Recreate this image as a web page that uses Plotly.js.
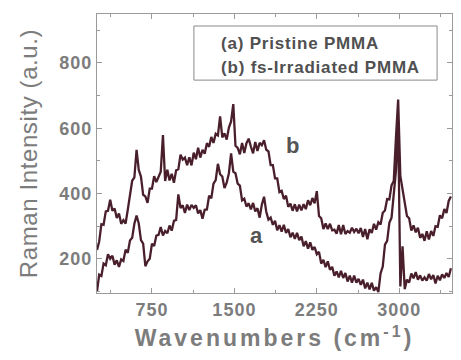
<!DOCTYPE html>
<html>
<head>
<meta charset="utf-8">
<script src="https://cdn.plot.ly/plotly-3.0.1.min.js"></script>
<style>
  html, body { margin: 0; padding: 0; background: #fff; }
  #chart { width: 461px; height: 360px; }
  .annotation-text { letter-spacing: 0.8px; }
  .g-xtitle text { letter-spacing: 3px; }
  .g-ytitle text { letter-spacing: 0.6px; }
  .xtick text, .ytick text { letter-spacing: 1px; }
</style>
</head>
<body>
<div id="chart"></div>
<script>
// Wavenumber sampling (cm^-1)
const wavenumbers = [250,270,290,310,330,350,370,390,410,430,450,470,490,510,530,550,570,590,610,630,
  650,670,690,710,730,750,770,790,810,830,850,870,890,910,930,950,970,990,1010,1030,
  1050,1070,1090,1110,1130,1150,1170,1190,1210,1230,1250,1270,1290,1310,1330,1350,1370,1390,1410,1430,
  1450,1470,1490,1510,1530,1550,1570,1590,1610,1630,1650,1670,1690,1710,1730,1750,1770,1790,1810,1830,
  1850,1870,1890,1910,1930,1950,1970,1990,2010,2030,2050,2070,2090,2110,2130,2150,2170,2190,2210,2230,
  2250,2270,2290,2310,2330,2350,2370,2390,2410,2430,2450,2470,2490,2510,2530,2550,2570,2590,2610,2630,
  2650,2670,2690,2710,2730,2750,2770,2790,2810,2830,2850,2870,2890,2910,2930,2950,2970,2990,3010,3030,
  3050,3070,3090,3110,3130,3150,3170,3190,3210,3230,3250,3270,3290,3310,3330,3350,3370,3390,3410,3430,
  3450,3470];

// (a) Pristine PMMA
const pristine = [100,151,147,185,180,214,200,209,182,195,175,198,193,228,218,256,264,307,332,308,
  257,246,177,192,200,246,239,271,273,297,271,285,278,302,286,316,319,397,355,364,
  340,366,349,365,356,364,339,349,323,350,351,393,385,430,441,491,459,452,417,433,
  462,523,467,462,430,424,379,384,360,370,351,371,345,355,326,366,390,344,320,326,
  304,316,287,303,283,304,279,291,266,280,261,279,257,268,238,254,231,250,227,236,
  214,221,185,197,174,192,166,175,148,161,143,163,141,156,130,148,127,148,127,138,
  120,136,109,127,106,126,102,113,98,155,176,243,255,310,326,401,469,620,115,238,
  107,136,127,155,140,159,136,149,133,143,133,153,137,150,124,148,134,152,141,156,
  144,171];

// (b) fs-Irradiated PMMA
const irradiated = [227,253,306,304,345,347,381,347,354,325,339,307,318,308,350,388,439,449,534,472,
  452,396,391,371,415,415,453,435,452,467,579,438,473,440,460,433,471,474,519,504,
  510,487,511,486,525,505,540,510,534,522,554,543,573,555,583,578,636,572,584,565,
  602,621,674,546,540,520,555,524,554,568,544,523,558,530,555,548,563,534,529,487,
  487,446,446,404,408,383,393,359,369,347,367,345,366,348,367,352,379,364,386,370,
  407,331,324,291,308,291,307,287,289,277,303,275,303,276,285,280,295,282,292,278,
  294,267,291,260,290,279,307,289,312,305,341,348,383,382,425,438,571,688,454,410,
  377,331,324,286,302,281,295,264,276,255,284,259,285,270,300,298,333,324,352,340,
  377,391];

const xTicks = [750, 1500, 2250, 3000];
const yTicks = [200, 400, 600, 800];
const legendLines = ["(a) Pristine PMMA", "(b) fs-Irradiated PMMA"];
const curveLabels = ["a", "b"];

const lineColor = '#4a1f2c';
const axisColor = '#9a9a9a';
const textGray = '#7c7c7c';
const fontFam = 'Liberation Sans, Arial, Helvetica, sans-serif';

const traces = [
  { x: wavenumbers, y: irradiated, type: 'scatter', mode: 'lines',
    line: { color: lineColor, width: 2.3 }, hoverinfo: 'skip', showlegend: false },
  { x: wavenumbers, y: pristine, type: 'scatter', mode: 'lines',
    line: { color: lineColor, width: 2.3 }, hoverinfo: 'skip', showlegend: false }
];

const axisCommon = {
  showline: true, linecolor: axisColor, linewidth: 1, mirror: 'ticks',
  ticks: 'inside', ticklen: 5, tickcolor: axisColor, tickwidth: 1,
  showgrid: false, zeroline: false,
  tickfont: { family: fontFam, size: 18, color: textGray, weight: 'bold' }
};

const layout = {
  width: 461, height: 360,
  margin: { l: 97, r: 9, t: 14, b: 67 },
  paper_bgcolor: '#fff', plot_bgcolor: '#fff',
  showlegend: false,
  xaxis: Object.assign({}, axisCommon, {
    range: [250, 3480], tickmode: 'array', tickvals: xTicks,
    minor: { dtick: 375, tick0: 0, ticks: 'inside', ticklen: 3, tickcolor: axisColor },
    title: { text: 'Wavenumbers (cm<sup>-1</sup>)', standoff: 11,
      font: { family: fontFam, size: 23, color: textGray, weight: 'bold' } }
  }),
  yaxis: Object.assign({}, axisCommon, {
    range: [95, 950], tickmode: 'array', tickvals: yTicks,
    minor: { dtick: 100, tick0: 0, ticks: 'inside', ticklen: 3, tickcolor: axisColor },
    title: { text: 'Raman Intensity (a.u.)', standoff: 14,
      font: { family: fontFam, size: 24, color: textGray } }
  }),
  shapes: [
    { type: 'rect', xref: 'paper', yref: 'paper', x0: 0.273, x1: 0.958, y0: 0.763, y1: 0.957,
      line: { color: '#8a8a8a', width: 1 }, fillcolor: 'rgba(0,0,0,0)' }
  ],
  annotations: [
    { xref: 'paper', yref: 'paper', x: 0.344, y: 0.896, xanchor: 'left', yanchor: 'middle',
      text: legendLines[0], showarrow: false,
      font: { family: fontFam, size: 17, color: '#505050', weight: 'bold' } },
    { xref: 'paper', yref: 'paper', x: 0.344, y: 0.810, xanchor: 'left', yanchor: 'middle',
      text: legendLines[1], showarrow: false,
      font: { family: fontFam, size: 17, color: '#505050', weight: 'bold' } },
    { x: 1700, y: 272, text: curveLabels[0], showarrow: false,
      font: { family: fontFam, size: 22, color: '#555', weight: 'bold' } },
    { x: 2030, y: 548, text: curveLabels[1], showarrow: false,
      font: { family: fontFam, size: 22, color: '#555', weight: 'bold' } }
  ]
};

Plotly.newPlot('chart', traces, layout, { staticPlot: true, displayModeBar: false });
</script>
</body>
</html>
